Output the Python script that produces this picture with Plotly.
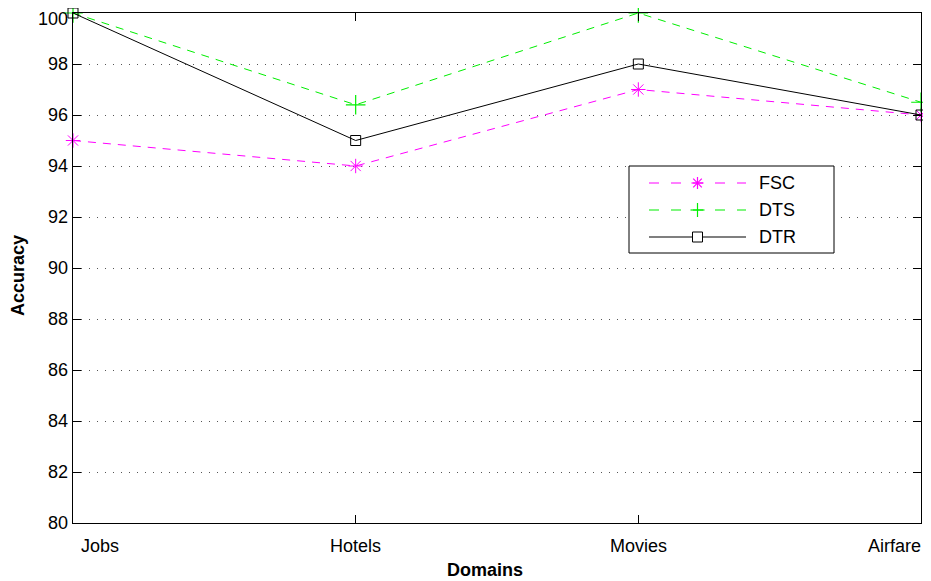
import plotly.graph_objects as go

domains = ["Jobs", "Hotels", "Movies", "Airfare"]
fsc = [95, 94, 97, 96]
dts = [100, 96.4, 100, 96.5]
dtr = [100, 95, 98, 96]
yticks = list(range(80, 101, 2))

xpos = list(range(1, len(domains) + 1))
font = "Liberation Sans, Arial, Helvetica, sans-serif"
FS = 18
MAGENTA = "#ff00ff"
GREEN = "#00ee00"

# the page body adds an 8px offset; plot area target (page px): 73..921 x 13..523
PL, PR, PT, PB = 73, 921, 13, 523
W, H = 931, 581
OFF = 8


def px(sx):
    return (sx - PL) / (PR - PL)


def py(sy):
    return (PB - sy) / (PB - PT)


fig = go.Figure()
fig.add_trace(go.Scatter(x=xpos, y=fsc, name="FSC", mode="lines+markers",
                         cliponaxis=False,
                         line=dict(color=MAGENTA, width=1, dash="8px,7px"),
                         marker=dict(symbol="asterisk-open", size=12,
                                     line=dict(color=MAGENTA, width=1))))
fig.add_trace(go.Scatter(x=xpos, y=dts, name="DTS", mode="lines+markers",
                         cliponaxis=False,
                         line=dict(color=GREEN, width=1, dash="8px,7px"),
                         marker=dict(symbol="cross-thin-open", size=14,
                                     line=dict(color=GREEN, width=1.2))))
fig.add_trace(go.Scatter(x=xpos, y=dtr, name="DTR", mode="lines+markers",
                         cliponaxis=False,
                         line=dict(color="black", width=1),
                         marker=dict(symbol="square-open", size=10,
                                     line=dict(color="black", width=1))))

# x tick labels (edge labels aligned inside like the original)
aligns = ["left", "center", "center", "right"]
for xp, lab, al in zip(xpos, domains, aligns):
    fig.add_annotation(x=xp, y=0, xref="x", yref="paper", text=lab,
                       showarrow=False, xanchor=al, yanchor="top", yshift=-11,
                       xshift=6 if al == "left" else (2 if al == "right" else 0),
                       font=dict(family=font, size=FS, color="black"))

# y tick labels: the top one is nudged down slightly so it stays inside the page
ytext = [str(v) for v in yticks]
for v, t in zip(yticks, ytext):
    fig.add_annotation(x=0, y=v, xref="paper", yref="y", text=t,
                       showarrow=False, xanchor="right", yanchor="middle",
                       xshift=-4, yshift=-6 if v == max(yticks) else 0,
                       borderpad=0,
                       font=dict(family=font, size=FS, color="black"))

# axis titles
fig.add_annotation(x=0, y=py(276), xref="paper", yref="paper",
                   text="<b>Accuracy</b>", showarrow=False, textangle=-90,
                   xanchor="center", yanchor="middle", xshift=-55,
                   font=dict(family=font, size=FS, color="black"))
fig.add_annotation(x=px(485), y=0, xref="paper", yref="paper",
                   text="<b>Domains</b>", showarrow=False, xanchor="center",
                   yanchor="middle", yshift=-47,
                   font=dict(family=font, size=FS, color="black"))

# ---- custom legend (MATLAB style, long line samples) ----
shapes = []
shapes.append(dict(type="rect", xref="paper", yref="paper",
                   x0=px(629), x1=px(834), y0=py(253), y1=py(166),
                   line=dict(color="black", width=1), fillcolor="white",
                   layer="above"))
rows = [("FSC", MAGENTA, "10px,12px", 183),
        ("DTS", GREEN, "10px,12px", 210),
        ("DTR", "black", "solid", 237)]
mx = px(697.5)
for name, col, dash, sy in rows:
    shapes.append(dict(type="line", xref="paper", yref="paper",
                       x0=px(649), x1=px(746), y0=py(sy), y1=py(sy),
                       line=dict(color=col, width=1.2, dash=dash),
                       layer="above"))
    fig.add_annotation(x=px(757), y=py(sy), xref="paper", yref="paper",
                       text=name, showarrow=False, xanchor="left",
                       yanchor="middle",
                       font=dict(family=font, size=FS, color="black"))


def pix_line(cx, cy, dx0, dy0, dx1, dy1, col):
    return dict(type="line", xref="paper", yref="paper",
                xsizemode="pixel", ysizemode="pixel",
                xanchor=cx, yanchor=cy, x0=dx0, x1=dx1, y0=dy0, y1=dy1,
                line=dict(color=col, width=1.2), layer="above")


# asterisk
cy = py(183)
for d in [(-6, 0, 6, 0), (0, -6, 0, 6), (-4.3, -4.3, 4.3, 4.3), (-4.3, 4.3, 4.3, -4.3)]:
    shapes.append(pix_line(mx, cy, *d, MAGENTA))
# plus
cy = py(210)
for d in [(-7, 0, 7, 0), (0, -7, 0, 7)]:
    shapes.append(pix_line(mx, cy, *d, GREEN))
# square
cy = py(237)
shapes.append(dict(type="rect", xref="paper", yref="paper",
                   xsizemode="pixel", ysizemode="pixel",
                   xanchor=mx, yanchor=cy, x0=-5, x1=5, y0=-5, y1=5,
                   line=dict(color="black", width=1), fillcolor="white",
                   layer="above"))

fig.update_layout(
    width=W, height=H,
    margin=dict(l=PL - OFF, r=W - (PR - OFF), t=PT - OFF, b=H - (PB - OFF)),
    plot_bgcolor="white", paper_bgcolor="white",
    font=dict(family=font, size=FS, color="black"),
    showlegend=False,
    shapes=shapes,
    xaxis=dict(range=[1, 4], tickvals=xpos, ticktext=[""] * len(xpos),
               showgrid=False, zeroline=False, showline=True,
               linecolor="black", linewidth=1, mirror="ticks",
               ticks="inside", ticklen=8, tickcolor="black",
               automargin=False),
    yaxis=dict(range=[80, 100], tickvals=yticks, ticktext=[""] * len(yticks),
               showgrid=True, gridcolor="#555555", griddash="1px,7px",
               gridwidth=1, zeroline=False, showline=True,
               linecolor="black", linewidth=1, mirror="ticks",
               ticks="inside", ticklen=8, tickcolor="black",
               automargin=False),
)

fig.write_html("out.html")
